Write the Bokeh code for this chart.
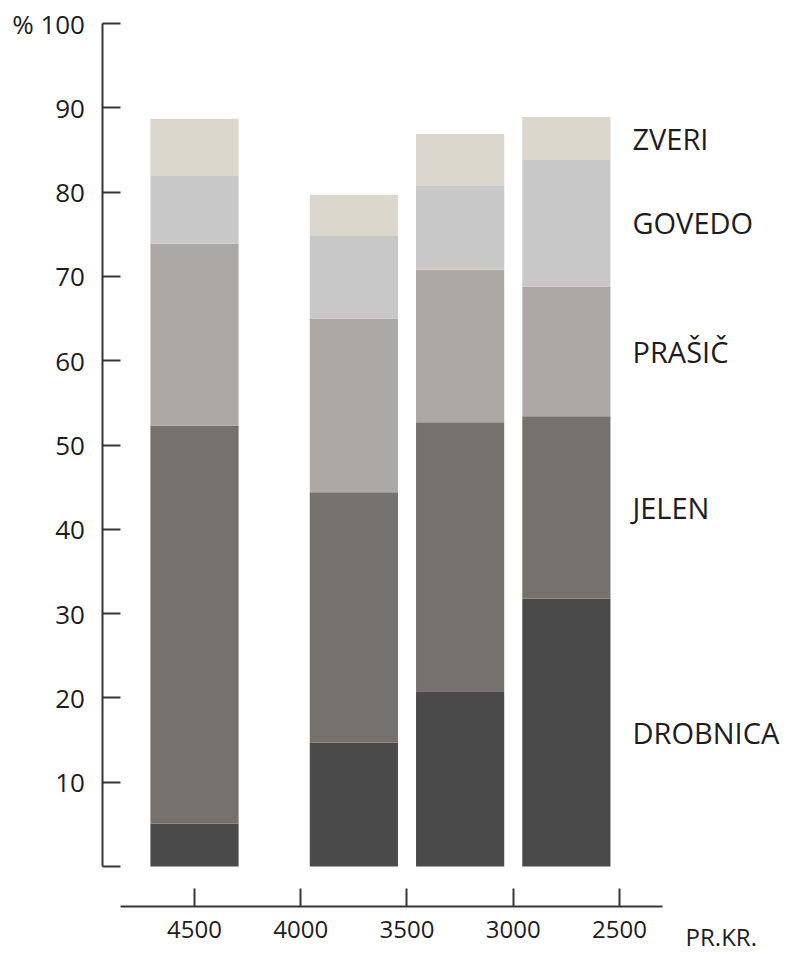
from bokeh.plotting import figure
from bokeh.models import Range1d, FixedTicker, ColumnDataSource, Label
from bokeh.embed import file_html
from bokeh.resources import INLINE

# ---- data ----
periods = [4500, 3750, 3250, 2750]          # years B.C. (bar centres)
drobnica = [5.1, 14.7, 20.8, 31.8]
jelen = [47.2, 29.7, 31.9, 21.6]
prasic = [21.6, 20.6, 18.1, 15.4]
govedo = [8.0, 9.8, 10.0, 15.1]
zveri = [6.8, 4.9, 6.1, 5.0]

species = ["drobnica", "jelen", "prasic", "govedo", "zveri"]
species_labels = ["DROBNICA", "JELEN", "PRAŠIČ", "GOVEDO", "ZVERI"]
colors = ["#4a4a4a", "#75716e", "#aca8a6", "#c9c8c9", "#dbd7cd"]

x_ticks = [4500, 4000, 3500, 3000, 2500]
y_ticks = [0, 10, 20, 30, 40, 50, 60, 70, 80, 90, 100]
y_label_overrides = {0: "", 100: "% 100"}
x_unit = "PR.KR."

FONT = "Open Sans"
INK = "#1e1c1c"
AXIS = "#3a3535"

source = ColumnDataSource(dict(x=periods, drobnica=drobnica, jelen=jelen,
                               prasic=prasic, govedo=govedo, zveri=zveri))

p = figure(width=793, height=953, output_backend="svg", toolbar_location=None,
           x_range=Range1d(5412.9, 1681.2), y_range=Range1d(-10.32, 102.73),
           min_border_left=0, min_border_right=0, min_border_top=0, min_border_bottom=0)
p.outline_line_color = None
p.xgrid.visible = False
p.ygrid.visible = False
p.background_fill_color = "white"
p.border_fill_color = "white"

p.vbar_stack(species, x="x", width=415, source=source,
             fill_color=colors, line_color=None)

# y axis
ya = p.yaxis[0]
ya.fixed_location = 4930.6
ya.bounds = (0, 100)
ya.ticker = FixedTicker(ticks=y_ticks)
ya.major_label_overrides = y_label_overrides
ya.minor_tick_line_color = None
ya.major_tick_in = 18
ya.major_tick_out = 0
ya.axis_line_color = AXIS
ya.axis_line_width = 2
ya.major_tick_line_color = AXIS
ya.major_tick_line_width = 2
ya.major_label_standoff = 18
ya.major_label_text_font = FONT
ya.major_label_text_font_size = "26px"
ya.major_label_text_color = INK

# x axis
xa = p.xaxis[0]
xa.fixed_location = -4.75
xa.bounds = (2297.6, 4848.2)
xa.ticker = FixedTicker(ticks=x_ticks)
xa.minor_tick_line_color = None
xa.major_tick_in = 18
xa.major_tick_out = 0
xa.axis_line_color = AXIS
xa.axis_line_width = 2
xa.major_tick_line_color = AXIS
xa.major_tick_line_width = 2
xa.major_label_standoff = 14
xa.major_label_text_font = FONT
xa.major_label_text_font_size = "24px"
xa.major_label_text_color = INK

p.add_layout(Label(x=2189, y=-8.3, text=x_unit, text_font=FONT,
                   text_font_size="24px", text_color=INK,
                   text_align="left", text_baseline="middle"))

# category labels at the middle of each segment of the last bar
cols = [drobnica, jelen, prasic, govedo, zveri]
cum = 0.0
for name, col in zip(species_labels, cols):
    v = col[-1]
    mid = cum + v / 2
    cum += v
    p.add_layout(Label(x=2439, y=mid, text=name, text_font=FONT,
                       text_font_size="29px", text_color=INK,
                       text_align="left", text_baseline="middle"))

open("out.html", "w").write(file_html(p, INLINE))
